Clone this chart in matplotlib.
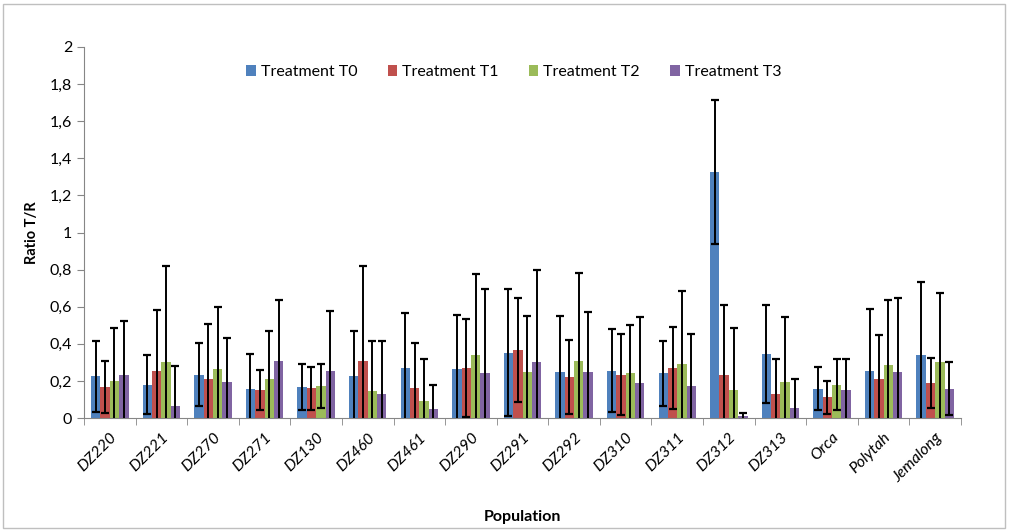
import matplotlib
matplotlib.use("Agg")
import matplotlib.pyplot as plt
import numpy as np
from matplotlib.ticker import FuncFormatter
from matplotlib.patches import Rectangle

plt.rcParams['font.family'] = ['Lato', 'DejaVu Sans']

populations = ["DZ220", "DZ221", "DZ270", "DZ271", "DZ130", "DZ460", "DZ461",
               "DZ290", "DZ291", "DZ292", "DZ310", "DZ311", "DZ312", "DZ313",
               "Orca", "Polytah", "Jemalong"]
treatments = ["Treatment T0", "Treatment T1", "Treatment T2", "Treatment T3"]

t0 = [0.225, 0.180, 0.234, 0.159, 0.166, 0.225, 0.271, 0.264, 0.352, 0.248,
      0.255, 0.241, 1.324, 0.345, 0.158, 0.255, 0.338]
t1 = [0.166, 0.255, 0.211, 0.150, 0.161, 0.309, 0.161, 0.271, 0.368, 0.220,
      0.234, 0.271, 0.234, 0.129, 0.111, 0.212, 0.187]
t2 = [0.202, 0.300, 0.264, 0.211, 0.173, 0.145, 0.091, 0.339, 0.248, 0.309,
      0.241, 0.293, 0.151, 0.194, 0.180, 0.286, 0.300]
t3 = [0.234, 0.063, 0.196, 0.309, 0.255, 0.130, 0.046, 0.241, 0.300, 0.248,
      0.189, 0.175, 0.009, 0.054, 0.151, 0.248, 0.158]

e0 = [0.192, 0.157, 0.170, 0.184, 0.123, 0.245, 0.293, 0.293, 0.343, 0.302,
      0.225, 0.175, 0.388, 0.266, 0.117, 0.334, 0.393]
e1 = [0.141, 0.327, 0.296, 0.108, 0.116, 0.509, 0.241, 0.265, 0.280, 0.198,
      0.220, 0.220, 0.377, 0.190, 0.088, 0.235, 0.135]
e2 = [0.284, 0.518, 0.332, 0.259, 0.118, 0.271, 0.229, 0.436, 0.302, 0.473,
      0.259, 0.393, 0.334, 0.350, 0.139, 0.348, 0.372]
e3 = [0.287, 0.220, 0.236, 0.327, 0.320, 0.286, 0.134, 0.452, 0.496, 0.325,
      0.354, 0.279, 0.018, 0.154, 0.169, 0.401, 0.142]

values = [t0, t1, t2, t3]
errors = [e0, e1, e2, e3]
colors = ["#4F81BD", "#C0504D", "#9BBB59", "#8064A2"]

fig = plt.figure(figsize=(10.09, 5.31), dpi=100)
fig.patches.append(Rectangle((0.003, 0.006), 0.993, 0.986, transform=fig.transFigure,
                             fill=False, edgecolor="#bfbfbf", linewidth=1))
ax = fig.add_axes([84 / 1009, 113 / 531, 877 / 1009, 371 / 531])

x = np.arange(len(populations))
w = 1 / 5.5
for j in range(4):
    pos = x + (j - 1.5) * w
    ax.bar(pos, values[j], width=w, color=colors[j], label=treatments[j], zorder=2)
    ax.errorbar(pos, values[j], yerr=errors[j], fmt="none", ecolor="black",
                elinewidth=1.4, capsize=3, capthick=1.6, zorder=3)

ax.set_xlim(-0.5, len(populations) - 0.5)
ax.set_ylim(0, 2)
ax.set_yticks(np.arange(0, 2.01, 0.2))
ax.yaxis.set_major_formatter(FuncFormatter(lambda v, p: ("%g" % round(v, 1)).replace(".", ",")))
ax.set_xticks(x)
ax.set_xticklabels(populations, rotation=45, ha="right", rotation_mode="anchor",
                   fontstyle="italic", fontsize=11.5)
ax.set_xticks(np.arange(-0.5, len(populations), 1), minor=True)
ax.tick_params(axis="x", which="major", length=0, pad=9)
ax.tick_params(axis="x", which="minor", length=5, color="#868686")
ax.tick_params(axis="y", length=5, color="#868686", labelsize=11.5)

for s in ["top", "right"]:
    ax.spines[s].set_visible(False)
for s in ["left", "bottom"]:
    ax.spines[s].set_color("#868686")

ax.set_ylabel("Ratio T/R", fontweight="bold", fontsize=10.5, labelpad=8)
ax.set_xlabel("Population", fontweight="bold", fontsize=11.5, labelpad=18)

ax.legend(loc="upper center", bbox_to_anchor=(0.49, 0.99), ncol=4, frameon=False,
          fontsize=11.5, handlelength=0.6, handleheight=0.6, handletextpad=0.3,
          columnspacing=1.9)

fig.savefig("out.png", dpi=100)
